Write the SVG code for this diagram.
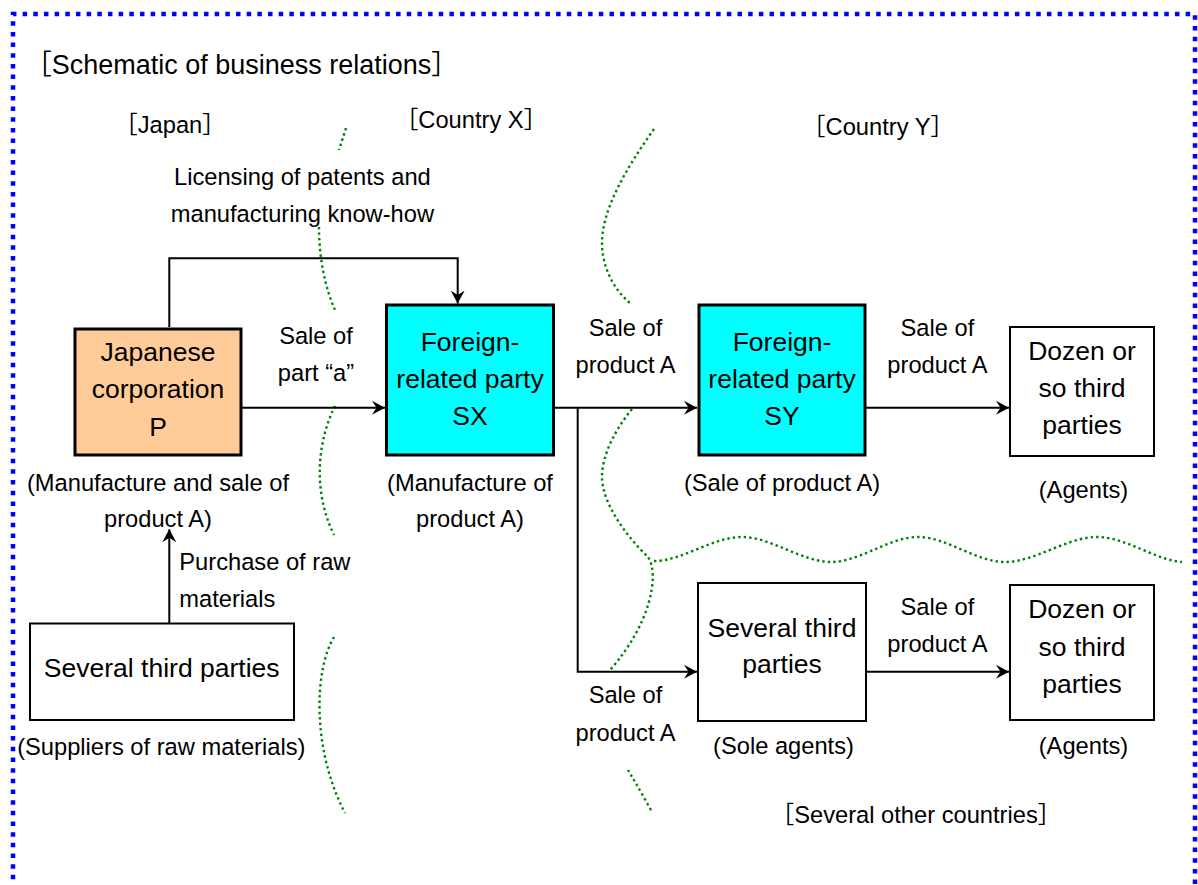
<svg xmlns="http://www.w3.org/2000/svg" width="1198" height="885" viewBox="0 0 1198 885">
<style>
text{font-family:"Liberation Sans",Arial,"Noto Sans CJK JP",sans-serif;fill:#000;text-anchor:middle}
.lb{font-size:23.7px}
.bx{font-size:26.5px}
.tt{font-size:27px}
.st{text-anchor:start}
.thick{stroke:#000;stroke-width:3}
.thin{fill:#fff;stroke:#000;stroke-width:2}
.con{fill:none;stroke:#000;stroke-width:2}
.grn{fill:none;stroke:#008000;stroke-width:2.4;stroke-dasharray:2.4 3.1}
.frame{fill:none;stroke:#0000FF;stroke-width:4.5;stroke-dasharray:4.5 6.17}
</style>
<defs>
<marker id="arr" viewBox="-13 -8 14 16" refX="0" refY="0" markerWidth="14" markerHeight="16" markerUnits="userSpaceOnUse" orient="auto">
<path d="M0,0 L-13,-7 L-8.5,0 L-13,7 Z" fill="#000"/>
</marker>
</defs>
<rect width="1198" height="885" fill="#fff"/>
<path class="frame" d="M13,890 V14 H1195 V890"/>

<g id="boundaries">
<path class="grn" d="M346,128 L339,150"/>
<path class="grn" d="M319,227 C319,255 324,285 335,310"/>
<path class="grn" d="M335,406 C318,440 312,490 334,535"/>
<path class="grn" d="M334,637 C314,670 312,750 345,813"/>
<path class="grn" d="M654,129 C625,170 602,210 602,243 C602,265 612,288 630,303"/>
<path class="grn" d="M632,409 C615,430 602,455 602,477 C602,505 630,540 648,557 C660,575 650,625 610,670"/>
<path class="grn" d="M628,770 Q640,790 652,812"/>
<path class="grn" d="M654,561 C683,561 712,537 742,537 C771,537 802,562 831,562 C860,562 889,537 918,537 C947,537 976,562 1005,562 C1035,562 1067,537 1097,537 C1126,537 1155,560 1182,562"/>
</g>

<g id="connectors">
<path class="con" d="M169.3,327 V258.3 H457.7 V303.5" marker-end="url(#arr)"/>
<path class="con" d="M242,407.7 H385" marker-end="url(#arr)"/>
<path class="con" d="M555,407.7 H697" marker-end="url(#arr)"/>
<path class="con" d="M577.7,407.7 V671.7 H697" marker-end="url(#arr)"/>
<path class="con" d="M866,407.7 H1009" marker-end="url(#arr)"/>
<path class="con" d="M866,671.7 H1009" marker-end="url(#arr)"/>
<path class="con" d="M169.3,623 V529.3" marker-end="url(#arr)"/>
</g>

<g id="texts">
<text class="tt" x="241.5" y="74">［Schematic of business relations］</text>
<text class="lb" x="170" y="133">［Japan］</text>
<text class="lb" x="471" y="128">［Country X］</text>
<text class="lb" x="878" y="135">［Country Y］</text>
<text class="lb" x="916" y="823">［Several other countries］</text>
<text class="lb" x="302.4" y="185">Licensing of patents and<tspan x="302.4" y="221.7">manufacturing know-how</tspan></text>
<text class="lb" x="316" y="344">Sale of<tspan x="316" y="380.7">part “a”</tspan></text>
<text class="lb" x="158" y="490.7">(Manufacture and sale of<tspan x="158" y="527.3">product A)</tspan></text>
<text class="lb st" x="179.3" y="570">Purchase of raw<tspan x="179.3" y="606.5">materials</tspan></text>
<text class="lb" x="161.3" y="755">(Suppliers of raw materials)</text>
<text class="lb" x="470" y="490.7">(Manufacture of<tspan x="470" y="527.3">product A)</tspan></text>
<text class="lb" x="625.5" y="335.5">Sale of<tspan x="625.5" y="372.7">product A</tspan></text>
<text class="lb" x="782" y="490.7">(Sale of product A)</text>
<text class="lb" x="937.4" y="335.5">Sale of<tspan x="937.4" y="372.7">product A</tspan></text>
<text class="lb" x="1083.5" y="498">(Agents)</text>
<text class="lb" x="625.5" y="703.3">Sale of<tspan x="625.5" y="741">product A</tspan></text>
<text class="lb" x="783.5" y="754.3">(Sole agents)</text>
<text class="lb" x="937.4" y="615">Sale of<tspan x="937.4" y="651.7">product A</tspan></text>
<text class="lb" x="1083.5" y="754.3">(Agents)</text>
</g>

<g id="nodeP">
<rect class="thick" x="75" y="329" width="166" height="126" fill="#FFCC99"/>
<text class="bx" x="158" y="360.5">Japanese<tspan x="158" y="398">corporation</tspan><tspan x="158" y="435.5">P</tspan></text>
</g>
<g id="nodeSX">
<rect class="thick" x="386.5" y="305" width="167" height="150" fill="#00FFFF"/>
<text class="bx" x="470" y="350.7">Foreign-<tspan x="470" y="388.3">related party</tspan><tspan x="470" y="425">SX</tspan></text>
</g>
<g id="nodeSY">
<rect class="thick" x="699" y="305" width="166" height="150" fill="#00FFFF"/>
<text class="bx" x="782" y="350.7">Foreign-<tspan x="782" y="388.3">related party</tspan><tspan x="782" y="425">SY</tspan></text>
</g>
<g id="nodeDozen1">
<rect class="thin" x="1010" y="327" width="144" height="129"/>
<text class="bx" x="1082" y="359.5">Dozen or<tspan x="1082" y="396.5">so third</tspan><tspan x="1082" y="433.5">parties</tspan></text>
</g>
<g id="nodeSeveralMid">
<rect class="thin" x="698" y="583" width="168" height="138"/>
<text class="bx" x="782" y="636.7">Several third<tspan x="782" y="673.3">parties</tspan></text>
</g>
<g id="nodeDozen2">
<rect class="thin" x="1010" y="585" width="144" height="135"/>
<text class="bx" x="1082" y="618.3">Dozen or<tspan x="1082" y="655.5">so third</tspan><tspan x="1082" y="692.7">parties</tspan></text>
</g>
<g id="nodeSeveralLeft">
<rect class="thin" x="30" y="623.5" width="264" height="96.5"/>
<text class="bx" x="161.7" y="676.7">Several third parties</text>
</g>
</svg>
